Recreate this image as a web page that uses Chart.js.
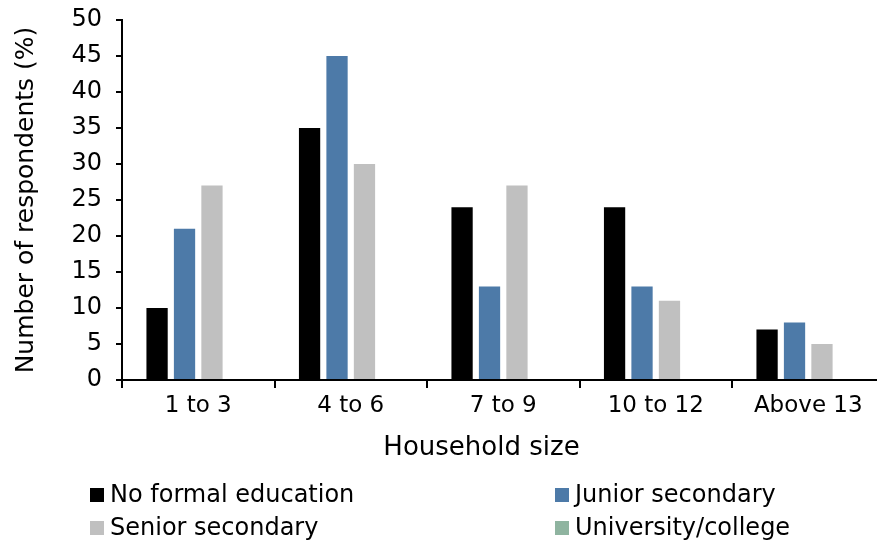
<!DOCTYPE html>
<html>
<head>
<meta charset="utf-8">
<script src="https://cdn.jsdelivr.net/npm/chart.js@4/dist/chart.umd.min.js"></script>
<style>
  html, body { margin: 0; padding: 0; background: #fff; overflow: hidden; }
  #wrap { width: 877px; height: 544px; overflow: hidden; }
</style>
</head>
<body>
<div id="wrap"><canvas id="chart" width="892" height="544"></canvas></div>
<script>
// Household size groups
const categories = ['1 to 3', '4 to 6', '7 to 9', '10 to 12', 'Above 13'];

// Share of respondents (%) by education level
const noFormalEducation = [10, 35, 24, 24, 7];
const juniorSecondary   = [21, 45, 13, 13, 8];
const seniorSecondary   = [27, 30, 27, 11, 5];
const universityCollege = [0, 0, 0, 0, 0];

const seriesNames = ['No formal education', 'Junior secondary', 'Senior secondary', 'University/college'];
const yTicks = [0, 5, 10, 15, 20, 25, 30, 35, 40, 45, 50];
const xAxisTitle = 'Household size';
const yAxisTitle = 'Number of respondents (%)';

const FONT = "'DejaVu Sans', sans-serif";
const colors = ['#000000', '#4d7aa8', '#c0c0c0', '#8fb4a0'];
const seriesValues = [noFormalEducation, juniorSecondary, seniorSecondary, universityCollege];

// x-axis caption and a two-column legend underneath it
const captionAndLegend = {
  id: 'captionAndLegend',
  afterDraw(chart, args, opts) {
    const ctx = chart.ctx;
    ctx.save();
    ctx.fillStyle = '#000';
    ctx.font = opts.captionFont;
    ctx.textAlign = 'center';
    ctx.textBaseline = 'alphabetic';
    ctx.fillText(opts.caption, opts.captionX, opts.captionY);

    ctx.font = opts.font;
    ctx.textAlign = 'left';
    chart.data.datasets.forEach((ds, i) => {
      const x = opts.columns[i % 2];
      const y = opts.rows[Math.floor(i / 2)];
      ctx.fillStyle = ds.backgroundColor;
      ctx.fillRect(x, y - opts.box / 2, opts.box, opts.box);
      ctx.fillStyle = '#000';
      ctx.fillText(ds.label, x + opts.box + 6, y + 7);
    });
    ctx.restore();
  }
};

new Chart(document.getElementById('chart'), {
  type: 'bar',
  data: {
    labels: categories,
    datasets: seriesNames.map((name, i) => ({
      label: name,
      data: seriesValues[i],
      backgroundColor: colors[i],
      borderWidth: 0,
      categoryPercentage: 0.72,
      barPercentage: 0.775
    }))
  },
  plugins: [captionAndLegend],
  options: {
    responsive: false,
    animation: false,
    layout: { padding: { top: 20, right: 7.5, left: 0, bottom: 0 } },
    plugins: {
      legend: { display: false },
      tooltip: { enabled: false },
      captionAndLegend: {
        caption: xAxisTitle,
        captionX: 481.5,
        captionY: 454.5,
        captionFont: '26px ' + FONT,
        columns: [90, 555],
        rows: [495, 528],
        box: 14,
        font: '24px ' + FONT
      }
    },
    scales: {
      x: {
        afterFit(scale) { scale.height = 164; },
        border: { display: true, color: '#000', width: 2 },
        grid: { display: true, drawOnChartArea: false, drawTicks: true, tickLength: 8, color: '#000', lineWidth: 2, offset: true },
        ticks: { color: '#000', font: { family: FONT, size: 23 }, padding: 4, maxRotation: 0 },
        title: { display: false }
      },
      y: {
        min: 0,
        max: 50,
        afterFit(scale) {
          scale.width = 122;
          scale.paddingTop = 0;
          scale.paddingBottom = 0;
        },
        afterBuildTicks(scale) { scale.ticks = yTicks.map(v => ({ value: v })); },
        border: { display: true, color: '#000', width: 2 },
        grid: { display: true, drawOnChartArea: false, drawTicks: true, tickLength: 6, color: '#000', lineWidth: 2 },
        ticks: { color: '#000', font: { family: FONT, size: 24 }, padding: 14 },
        title: {
          display: true,
          text: yAxisTitle,
          color: '#000',
          font: { family: FONT, size: 25 },
          padding: { top: 11, bottom: 0 }
        }
      }
    }
  }
});
</script>
</body>
</html>
